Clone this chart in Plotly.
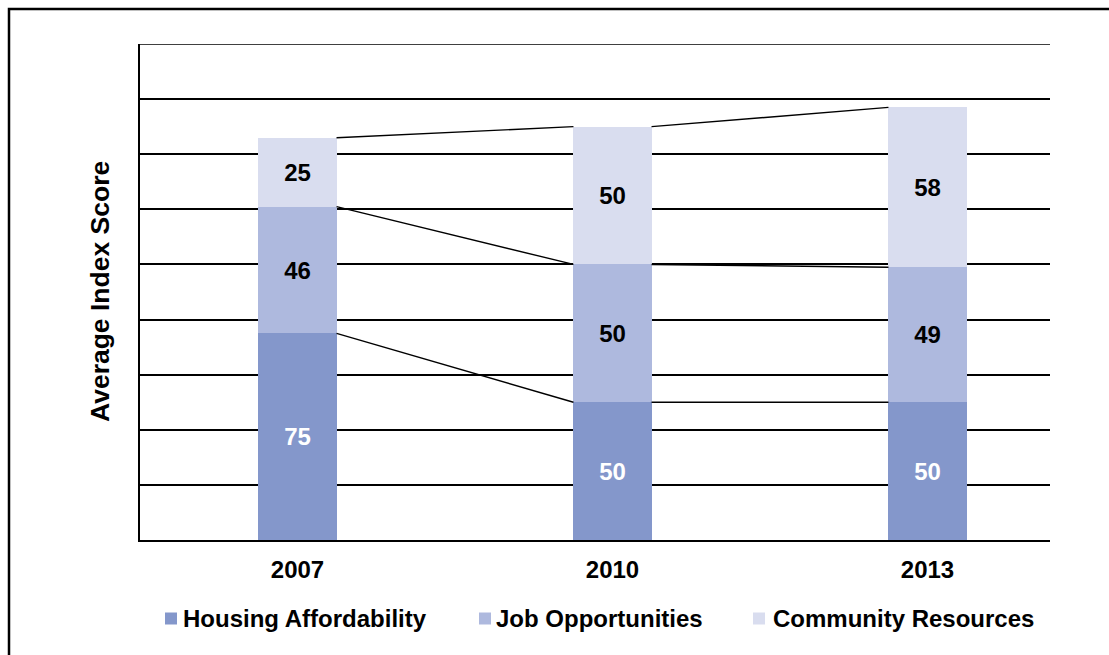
import plotly.graph_objects as go

# Survey years and average index scores per component
years = ["2007", "2010", "2013"]
housing = [75, 50, 50]
jobs = [46, 50, 49]
community = [25, 50, 58]

series_names = ["Housing Affordability", "Job Opportunities", "Community Resources"]
series_values = [housing, jobs, community]
series_colors = ["#8497CB", "#AEB9DE", "#D9DDEF"]
label_colors = ["white", "black", "black"]

Y_MAX = 180

W, H = 1109, 655
ML, MR, MT, MB = 140, 59, 44, 115
PW, PH = W - ML - MR, H - MT - MB
BAR_W = 0.248
FONT = "Liberation Sans, Arial, sans-serif"


def px_x(p):
    return (p - ML) / PW


def px_y(p):
    return (H - MB - p) / PH


fig = go.Figure()
xs = list(range(len(years)))

for name, vals, col, lc in zip(series_names, series_values, series_colors, label_colors):
    fig.add_trace(go.Bar(
        x=xs, y=vals, name=name, width=BAR_W,
        marker=dict(color=col, line=dict(width=0)),
        text=[str(v) for v in vals], textposition="inside",
        insidetextanchor="middle", constraintext="none", textangle=0,
        textfont=dict(family=FONT, size=24, color=lc, weight="bold"),
        showlegend=False, hoverinfo="skip",
    ))

# Series lines joining the top of each segment between neighbouring bars
cum = [0] * len(years)
for vals in series_values:
    cum = [c + v for c, v in zip(cum, vals)]
    lx, ly = [], []
    for i in range(len(years) - 1):
        lx += [i + BAR_W / 2, i + 1 - BAR_W / 2, None]
        ly += [cum[i], cum[i + 1], None]
    fig.add_trace(go.Scatter(x=lx, y=ly, mode="lines",
                             line=dict(color="black", width=1.4),
                             showlegend=False, hoverinfo="skip"))

shapes = [
    # outer chart frame
    dict(type="rect", xref="paper", yref="paper",
         x0=px_x(9), x1=px_x(1115), y0=px_y(9), y1=px_y(662),
         line=dict(color="black", width=2.5), fillcolor="rgba(0,0,0,0)"),
    # top gridline at the axis maximum
    dict(type="line", xref="paper", yref="y", x0=0, x1=1, y0=Y_MAX, y1=Y_MAX,
         line=dict(color="black", width=1.6), layer="below"),
]
annotations = [
    dict(text="Average Index Score", xref="paper", yref="paper",
         x=px_x(100), y=0.5, xanchor="center", yanchor="middle",
         textangle=-90, showarrow=False,
         font=dict(family=FONT, size=26.5, color="black", weight="bold")),
]

# Legend row
legend_pos = [(165, 181), (479, 494), (753, 771)]
for (sx, tx), name, col in zip(legend_pos, series_names, series_colors):
    shapes.append(dict(type="rect", xref="paper", yref="paper",
                       x0=px_x(sx), x1=px_x(sx + 12),
                       y0=px_y(612.5), y1=px_y(624.5),
                       line=dict(width=0), fillcolor=col))
    annotations.append(dict(text=name, xref="paper", yref="paper",
                            x=px_x(tx), y=px_y(618.5), xanchor="left", yanchor="middle",
                            showarrow=False,
                            font=dict(family=FONT, size=24, color="black", weight="bold")))

fig.update_layout(
    width=W, height=H,
    margin=dict(l=ML, r=MR, t=MT, b=MB, pad=0),
    paper_bgcolor="white", plot_bgcolor="white",
    barmode="stack", bargap=0,
    shapes=shapes, annotations=annotations,
    xaxis=dict(range=[-0.5, 2.3889], tickvals=xs, ticktext=years,
               showgrid=False, zeroline=False, ticks="",
               ticklabelstandoff=7,
               showline=True, linecolor="black", linewidth=2,
               tickfont=dict(family=FONT, size=24, color="black", weight="bold"),
               fixedrange=True),
    yaxis=dict(range=[0, Y_MAX], dtick=20, tick0=0,
               showgrid=True, gridcolor="black", gridwidth=1.6,
               zeroline=False, showticklabels=False, ticks="",
               showline=True, linecolor="black", linewidth=2,
               fixedrange=True),
)

fig.write_html("out.html")
